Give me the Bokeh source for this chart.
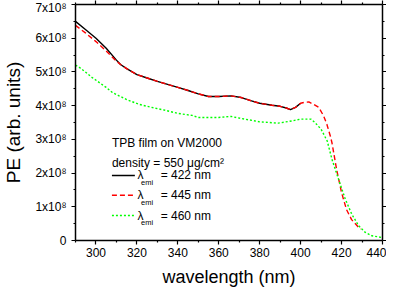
from bokeh.plotting import figure
from bokeh.models import (LinearAxis, FixedTicker, Range1d, Label, Arrow,
                          CustomLabelingPolicy)
from bokeh.embed import file_html
from bokeh.resources import INLINE

# ---- data (PE in units of 1e8 arb. units) ----
wl_422 = [290, 295, 300, 305, 310, 312, 315, 320, 325, 330, 335, 340, 345, 350,
          355, 360, 366, 371, 376, 380, 386, 390, 393, 395, 397.5, 400]
pe_422 = [6.50, 6.25, 6.00, 5.70, 5.35, 5.22, 5.10, 4.92, 4.82, 4.72, 4.63, 4.54,
          4.45, 4.35, 4.27, 4.27, 4.29, 4.24, 4.14, 4.07, 4.01, 3.98, 3.93, 3.88,
          3.95, 4.07]

wl_445 = [290, 295, 300, 305, 310, 312, 315, 320, 325, 330, 335, 340, 345, 350,
          355, 360, 366, 371, 376, 380, 386, 390, 393, 395, 397.5, 400, 402, 404,
          406.3, 408.8, 411.2, 412.8, 414.5, 415.3, 417.6, 420, 422.4, 424.9,
          428.3, 429.5]
pe_445 = [6.38, 6.15, 5.90, 5.62, 5.32, 5.22, 5.10, 4.92, 4.82, 4.72, 4.63, 4.54,
          4.45, 4.35, 4.27, 4.27, 4.29, 4.24, 4.14, 4.07, 4.01, 3.98, 3.93, 3.88,
          3.95, 4.07, 4.10, 4.11, 4.04, 3.95, 3.70, 3.45, 3.10, 2.90, 2.10, 1.42,
          0.92, 0.62, 0.39, 0.34]

wl_460 = [290, 292, 295, 298, 301.5, 305, 308, 311, 315, 321, 327, 334, 340, 347,
          350, 360, 366, 371, 380, 389, 396, 400, 405, 407, 410, 413, 415.3,
          418.5, 421.8, 425, 428.3, 431.6, 434.8, 439.7]
pe_460 = [5.20, 5.13, 4.99, 4.84, 4.69, 4.54, 4.39, 4.30, 4.18, 4.04, 3.95, 3.86,
          3.77, 3.71, 3.65, 3.65, 3.68, 3.62, 3.52, 3.48, 3.55, 3.60, 3.60, 3.50,
          3.30, 2.95, 2.41, 1.82, 1.23, 0.78, 0.44, 0.24, 0.14, 0.09]

x_ticks = [300, 320, 340, 360, 380, 400, 420, 440]
x_minor = [290, 310, 330, 350, 370, 390, 410, 430]
y_ticks = [0, 1, 2, 3, 4, 5, 6, 7]
y_minor = [0.5, 1.5, 2.5, 3.5, 4.5, 5.5, 6.5]
y_tick_labels = ["0", "1x10⁸", "2x10⁸", "3x10⁸", "4x10⁸", "5x10⁸", "6x10⁸", "7x10⁸"]

legend_title = "TPB film on VM2000"
legend_density = "density = 550 μg/cm²"
legend_labels = ["= 422 nm", "= 445 nm", "= 460 nm"]

# ---- styles ----
FONT = "Liberation Sans"
colors = ["#000000", "#ff0000", "#00ff00"]
dashes = ["solid", "5 3", "2 2"]

p = figure(frame_width=307, frame_height=236, output_backend="svg",
           toolbar_location=None,
           x_range=Range1d(290, 440), y_range=Range1d(0, 7),
           min_border_left=69, min_border_right=4, min_border_top=4,
           min_border_bottom=30)
p.grid.visible = False
p.outline_line_color = None
p.background_fill_color = "white"
p.border_fill_color = "white"

series = [(wl_422, pe_422), (wl_445, pe_445), (wl_460, pe_460)]
for (xs, ys), c, d in zip(series, colors, dashes):
    p.line(xs, ys, line_color=c, line_dash=d, line_width=1.4)

no_labels = CustomLabelingPolicy(code="return new Set()")

def style_axis(ax, ticks, minor, labels=True):
    ax.ticker = FixedTicker(ticks=ticks, minor_ticks=minor)
    ax.axis_line_width = 1.5
    ax.axis_line_color = "black"
    ax.major_tick_line_width = 1.2
    ax.minor_tick_line_width = 1.2
    ax.major_tick_in = 0
    ax.major_tick_out = 4
    ax.minor_tick_in = 0
    ax.minor_tick_out = 2
    ax.major_label_text_font = FONT
    ax.major_label_text_font_size = "12px"
    ax.major_label_text_color = "black"
    ax.axis_label_text_font = FONT
    ax.axis_label_text_font_style = "normal"
    ax.axis_label_text_color = "black"
    if not labels:
        ax.major_label_policy = no_labels
        ax.major_label_overrides = {t: "" for t in ticks}
        ax.major_label_standoff = 0

xa = p.xaxis[0]
style_axis(xa, x_ticks, x_minor)
xa.axis_label = "wavelength (nm)"
xa.axis_label_text_font_size = "18px"
xa.major_label_standoff = 3
xa.axis_label_standoff = 7

ya = p.yaxis[0]
style_axis(ya, y_ticks, y_minor)
ya.axis_label = "PE (arb. units)"
ya.axis_label_text_font_size = "19px"
ya.major_label_standoff = 5
ya.axis_label_standoff = 8
ya.major_label_overrides = {t: s for t, s in zip(y_ticks, y_tick_labels)}

top = LinearAxis()
style_axis(top, x_ticks, x_minor, labels=False)
p.add_layout(top, "above")
right = LinearAxis()
style_axis(right, y_ticks, y_minor, labels=False)
p.add_layout(right, "right")

# ---- legend (annotations in data units) ----
LX0, LX1 = 307.8, 319.0
L_LAMBDA = 320.3
L_SUB = 322.0
L_TEXT = 331.6
rows_y = [1.93, 1.34, 0.74]

p.add_layout(Label(x=LX0, y=2.88, text=legend_title, text_font=FONT,
                   text_font_size="12px", text_baseline="middle",
                   text_color="black"))
p.add_layout(Label(x=LX0, y=2.31, text=legend_density, text_font=FONT,
                   text_font_size="12px", text_baseline="middle",
                   text_color="black"))
for yv, lab, c, d in zip(rows_y, legend_labels, colors, dashes):
    p.add_layout(Arrow(end=None, x_start=LX0, y_start=yv, x_end=LX1, y_end=yv,
                       line_color=c, line_dash=d, line_width=1.4))
    p.add_layout(Label(x=L_LAMBDA, y=yv, text="λ", text_font=FONT,
                       text_font_size="12px", text_baseline="middle",
                       text_color="black"))
    p.add_layout(Label(x=L_SUB, y=yv - 0.2, text="emi", text_font=FONT,
                       text_font_size="7.5px", text_baseline="middle",
                       text_color="black"))
    p.add_layout(Label(x=L_TEXT, y=yv, text=lab, text_font=FONT,
                       text_font_size="12px", text_baseline="middle",
                       text_color="black"))

open("out.html", "w").write(file_html(p, INLINE))
